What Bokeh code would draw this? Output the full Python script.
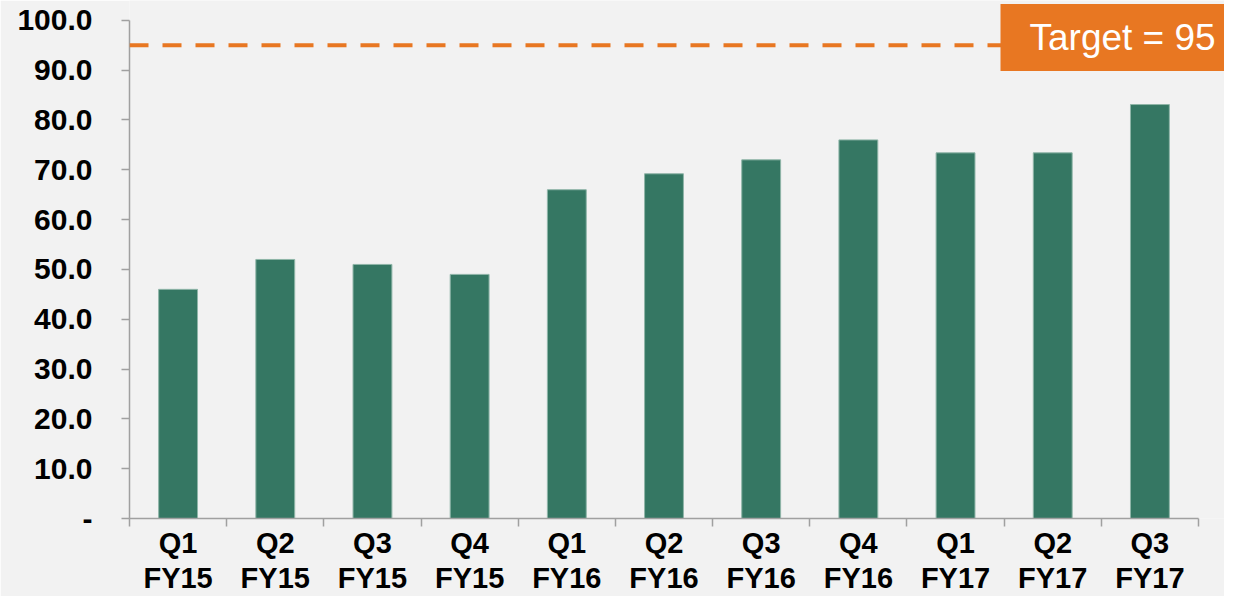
from bokeh.plotting import figure
from bokeh.models import Range1d, FixedTicker, Span, Label
from bokeh.embed import file_html
from bokeh.resources import INLINE

# ---- data ----
quarters = ["Q1", "Q2", "Q3", "Q4", "Q1", "Q2", "Q3", "Q4", "Q1", "Q2", "Q3"]
years = ["FY15", "FY15", "FY15", "FY15", "FY16", "FY16", "FY16", "FY16", "FY17", "FY17", "FY17"]
values = [46.0, 52.0, 51.0, 49.0, 66.0, 69.2, 72.0, 76.0, 73.4, 73.4, 83.1]
target = 95
y_ticks = [0, 10, 20, 30, 40, 50, 60, 70, 80, 90, 100]
y_tick_labels = ["-", "10.0", "20.0", "30.0", "40.0", "50.0", "60.0", "70.0", "80.0", "90.0", "100.0"]
target_text = "Target = 95"

BG = "#F2F2F2"
BAR = "#357763"
ORANGE = "#E87722"
AXIS = "#A0A0A0"
FONT = "Liberation Sans"

# ---- layout (pixels) ----
W, H = 1224, 596
LEFT, BOTTOM = 129, 74          # frame left edge / space under frame
AX_RIGHT_PX = 1198              # where the x axis ends
AX_TOP_PX = 20                  # where the y axis (100) ends
frame_w = W - LEFT
frame_h = H - BOTTOM

n = len(values)
centers = [i + 0.5 for i in range(n)]
edges = list(range(n + 1))
y_max = y_ticks[-1]

x_end = n * frame_w / (AX_RIGHT_PX - LEFT)
y_end = y_max * frame_h / (frame_h - AX_TOP_PX)

p = figure(width=W, height=H, output_backend="svg", toolbar_location=None,
           x_range=Range1d(0, x_end), y_range=Range1d(0, y_end),
           min_border_left=LEFT, min_border_right=0, min_border_top=0, min_border_bottom=BOTTOM)
p.background_fill_color = BG
p.border_fill_color = BG
p.outline_line_color = None
p.grid.visible = False

p.vbar(x=centers, top=values, width=0.4, fill_color=BAR, line_color="#8fb5a8", line_width=1)

p.add_layout(Span(location=target, dimension="width", line_color=ORANGE,
                  line_width=4, line_dash="19 14"))

# y axis
ya = p.yaxis[0]
ya.bounds = (0, y_max)
ya.ticker = FixedTicker(ticks=y_ticks)
ya.major_label_overrides = {t: l for t, l in zip(y_ticks, y_tick_labels)}
ya.minor_tick_line_color = None
ya.major_tick_in = 0
ya.major_tick_out = 8
ya.axis_line_color = AXIS
ya.major_tick_line_color = AXIS
ya.axis_line_width = 1.5
ya.major_tick_line_width = 1.5
ya.major_label_standoff = 29
ya.major_label_text_font = FONT
ya.major_label_text_font_style = "bold"
ya.major_label_text_font_size = "30px"
ya.major_label_text_color = "black"

# x axis: labels at centres, tick marks at category edges
xa = p.xaxis[0]
xa.bounds = (0, n)
xa.ticker = FixedTicker(ticks=centers, minor_ticks=edges)
xa.major_label_overrides = {c: f"{q}\n{y}" for c, q, y in zip(centers, quarters, years)}
xa.major_tick_line_color = None
xa.minor_tick_line_color = AXIS
xa.minor_tick_in = 0
xa.minor_tick_out = 8
xa.minor_tick_line_width = 1.5
xa.axis_line_color = AXIS
xa.axis_line_width = 1.5
xa.major_label_standoff = 0
xa.major_label_text_font = FONT
xa.major_label_text_font_style = "bold"
xa.major_label_text_font_size = "29px"
xa.major_label_text_line_height = 1.1
xa.major_label_text_color = "black"
xa.major_label_orientation = "horizontal"

p.add_layout(Label(x=1000 - LEFT, y=frame_h - 41, x_units="screen", y_units="screen",
                   text=target_text,
                   text_font=FONT, text_font_size="37px", text_color="white",
                   text_align="left", text_baseline="middle",
                   background_fill_color=ORANGE,
                   padding=dict(left=29, right=60, top=13, bottom=13)))

open("out.html", "w").write(file_html(p, INLINE))
